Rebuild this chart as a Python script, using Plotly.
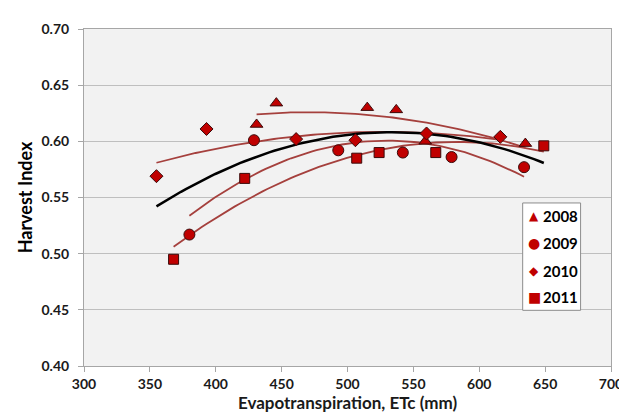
import numpy as np
import plotly.graph_objects as go

# Data
et_2008 = [431, 446, 515, 537, 559, 635]
hi_2008 = [0.615, 0.634, 0.630, 0.628, 0.600, 0.598]
et_2009 = [380, 429, 493, 542, 579, 634]
hi_2009 = [0.517, 0.601, 0.592, 0.590, 0.586, 0.577]
et_2010 = [355, 393, 461, 506, 560, 616]
hi_2010 = [0.569, 0.611, 0.602, 0.601, 0.607, 0.604]
et_2011 = [368, 422, 507, 524, 567, 649]
hi_2011 = [0.495, 0.567, 0.585, 0.590, 0.590, 0.596]

years = ["2008", "2009", "2010", "2011"]
symbols = ["triangle-up", "circle", "diamond", "square"]
legend_glyphs = ["▲", "●", "◆", "■"]
legend_glyph_sizes = [12, 14, 12, 14]
sizes = [11, 11, 10, 10]

series = [(et_2008, hi_2008), (et_2009, hi_2009), (et_2010, hi_2010), (et_2011, hi_2011)]

MARKER = "#C00000"
TREND = "#A5403D"

fig = go.Figure()

def quad_fit(x, y):
    c = np.polyfit(x, y, 2)
    xs = np.linspace(min(x), max(x), 80)
    return xs, np.polyval(c, xs)

# year trendlines
for (x, y) in series:
    xs, ys = quad_fit(x, y)
    fig.add_trace(go.Scatter(x=xs, y=ys, mode="lines", line=dict(color=TREND, width=1.8),
                             showlegend=False, hoverinfo="skip"))

# overall trendline
all_x = sum([s[0] for s in series], [])
all_y = sum([s[1] for s in series], [])
xs, ys = quad_fit(all_x, all_y)
fig.add_trace(go.Scatter(x=xs, y=ys, mode="lines", line=dict(color="#000000", width=2.5),
                         showlegend=False, hoverinfo="skip"))

for (x, y), yr, sym, sz in zip(series, years, symbols, sizes):
    fig.add_trace(go.Scatter(x=x, y=y, mode="markers", name=yr, showlegend=False,
                             marker=dict(symbol=sym, size=sz, color=MARKER,
                                         line=dict(color="#3A0A0A", width=1))))

# Legend box (Excel-style, compact)
fig.add_shape(type="rect", xref="paper", yref="paper", x0=0.8324, x1=0.9423, y0=0.1652, y1=0.4838,
              fillcolor="white", line=dict(color="#8C8C8C", width=1), layer="above")
legend_y = [0.4454, 0.3658, 0.2832, 0.2035]
for yr, g, gs, ly in zip(years, legend_glyphs, legend_glyph_sizes, legend_y):
    fig.add_annotation(xref="paper", yref="paper", x=0.8547, y=ly, text=g, showarrow=False,
                       xanchor="center", yanchor="middle",
                       font=dict(family="DejaVu Sans", size=gs, color=MARKER))
    fig.add_annotation(xref="paper", yref="paper", x=0.8680, y=ly, text=yr, showarrow=False,
                       xanchor="left", yanchor="middle",
                       font=dict(family="Lato", size=15, color="#000000", weight="bold"))

fig.update_layout(
    width=627, height=417,
    margin=dict(l=76, r=14, t=19, b=59),
    paper_bgcolor="white",
    plot_bgcolor="#F2F2F2",
    font=dict(family="Lato", size=13, color="#262626"),
    showlegend=False,
    xaxis=dict(range=[300, 700], tickvals=[300, 350, 400, 450, 500, 550, 600, 650, 700],
               showgrid=False, zeroline=False,
               showline=True, linecolor="#A6A6A6", linewidth=1, mirror=True,
               ticks="outside", ticklen=5, tickcolor="#A6A6A6",
               tickfont=dict(family="Lato", size=14, color="#1a1a1a", weight="bold"),
               title=dict(text="Evapotranspiration, ETc (mm)", standoff=1,
                          font=dict(family="Lato", size=17, color="#1a1a1a", weight="bold"))),
    yaxis=dict(range=[0.40, 0.70], tickvals=[0.40, 0.45, 0.50, 0.55, 0.60, 0.65, 0.70],
               tickformat=".2f", ticklabelstandoff=6,
               showgrid=True, gridcolor="#BFBFBF", gridwidth=1, zeroline=False,
               showline=True, linecolor="#A6A6A6", linewidth=1, mirror=True,
               ticks="outside", ticklen=5, tickcolor="#A6A6A6",
               tickfont=dict(family="Lato", size=14, color="#1a1a1a", weight="bold"),
               title=dict(text="Harvest Index", standoff=4,
                          font=dict(family="Lato", size=18, color="#000000", weight="bold"))),
)

fig.write_html("out.html")
